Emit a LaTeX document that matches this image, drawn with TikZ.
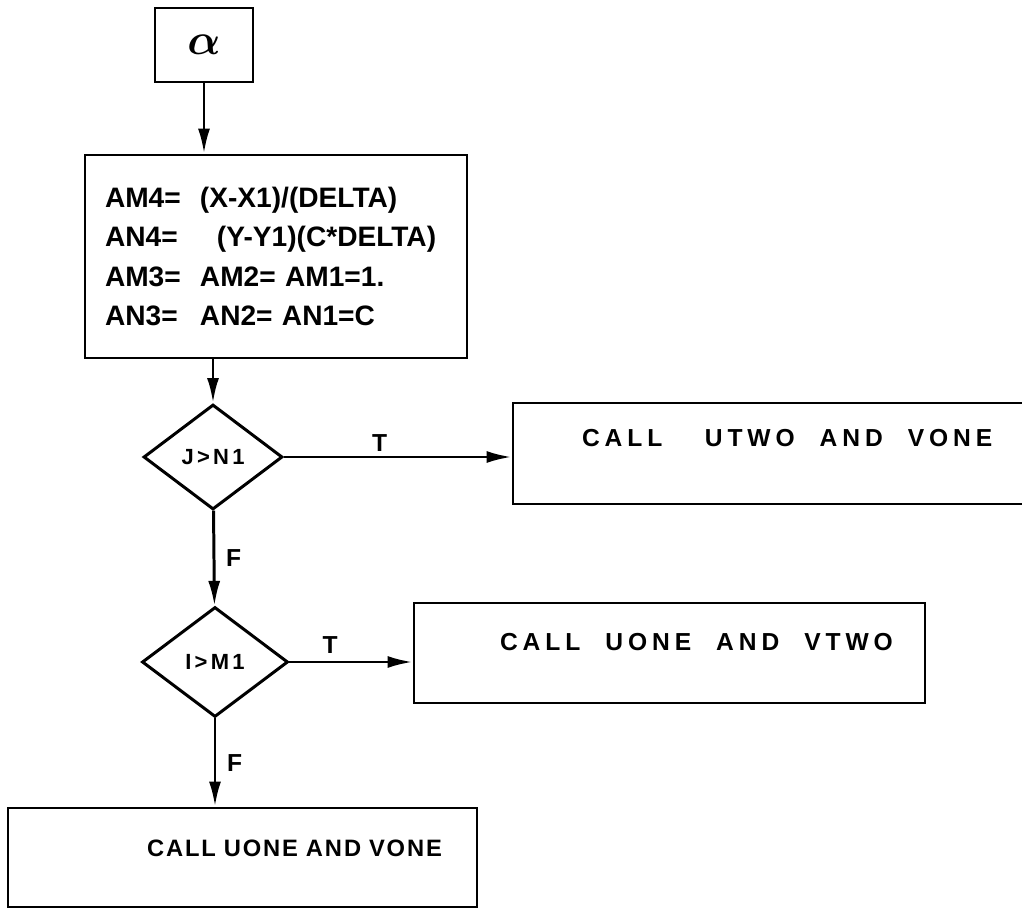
\documentclass[tikz,border=0pt]{standalone}
\usepackage{amsmath}
\usepackage{fontspec}
\setmainfont{Liberation Sans}
\usepackage{tikz}
\usetikzlibrary{
  arrows.meta,
  shapes.geometric,
  positioning,
  calc
}
\newfontfamily\handwide[LetterSpace=20]{Liberation Sans}
\newfontfamily\handmid[LetterSpace=8]{Liberation Sans}
\newfontfamily\handtest[LetterSpace=15]{Liberation Sans}
\tikzset{
  fcbox/.style={
    draw, line width=1.6pt, inner sep=0pt, align=left
  },
  callbox/.style={fcbox, font=\handwide\bfseries\fontsize{14}{16}\selectfont},
  statebox/.style={fcbox, font=\bfseries\fontsize{16}{22.5}\selectfont},
  decision/.style={
    draw, diamond, line width=1.7pt, inner sep=0pt,
    font=\handtest\bfseries\fontsize{12.5}{15}\selectfont
  },
  flow/.style={-{Latex[length=5mm, width=2.4mm]}, line width=1.7pt},
  tfmark/.style={font=\bfseries\fontsize{14}{16}\selectfont, inner sep=2pt}
}

\begin{document}
\begin{tikzpicture}[x=0.02cm, y=-0.02cm]
  \useasboundingbox (0,0) rectangle (1022,909);

  \node[fcbox, minimum width=1.96cm, minimum height=1.48cm, font=\fontsize{34}{34}\selectfont] (alpha) at (204,45) {$\boldsymbol{\alpha}$};
  \node[statebox, text width=6.84cm, inner xsep=0.4cm, minimum height=4.06cm] (init) at (276,256.5)
    {\makebox[1.9cm][l]{AM4=}(X-X1)/(DELTA)\\
     \makebox[1.9cm][l]{AN4=}\hspace{0.34cm}(Y-Y1)(C*DELTA)\\
     \makebox[1.9cm][l]{AM3=}AM2= AM1=1.\\
     \makebox[1.9cm][l]{AN3=}AN2= AN1=C};

  \node[decision, minimum width=2.78cm, minimum height=2.1cm] (jtest) at (213,457) {J>N1};
  \node[decision, minimum width=2.92cm, minimum height=2.2cm] (itest) at (215,662) {I>M1};

  \node[callbox, text width=10.54cm, minimum height=2.02cm, text height=0.3cm, text depth=0.6cm] (utwo) at (776.5,453.5)
    {\hspace*{1.38cm}CALL\hspace{0.85cm}UTWO\hspace{0.5cm}AND\hspace{0.5cm}VONE};
  \node[callbox, text width=10.22cm, minimum height=2cm, text height=0.3cm, text depth=0.4cm] (vtwo) at (669.5,653)
    {\hspace*{1.72cm}CALL\hspace{0.5cm}UONE\hspace{0.5cm}AND\hspace{0.5cm}VTWO};
  \node[callbox, font=\handmid\bfseries\fontsize{13.5}{15}\selectfont, text width=9.38cm, minimum height=1.98cm, text height=0.3cm, text depth=0.35cm] (vone) at (242.5,857.5)
    {\hspace*{2.78cm}CALL UONE AND VONE};

  \draw[flow] (alpha) -- (alpha |- init.north);
  \draw[flow] (init.south -| jtest) -- (jtest);
  \draw[flow] (jtest) -- node[tfmark, above, pos=0.42] {T} (jtest -| utwo.west);
  \draw[flow] (jtest) -- node[tfmark, right, xshift=4pt] {F} (itest);
  \draw[flow] (itest) -- node[tfmark, above, pos=0.33, yshift=2pt] {T} (itest -| vtwo.west);
  \draw[flow] (itest) -- node[tfmark, right, xshift=4pt] {F} (itest |- vone.north);
\end{tikzpicture}
\end{document}
